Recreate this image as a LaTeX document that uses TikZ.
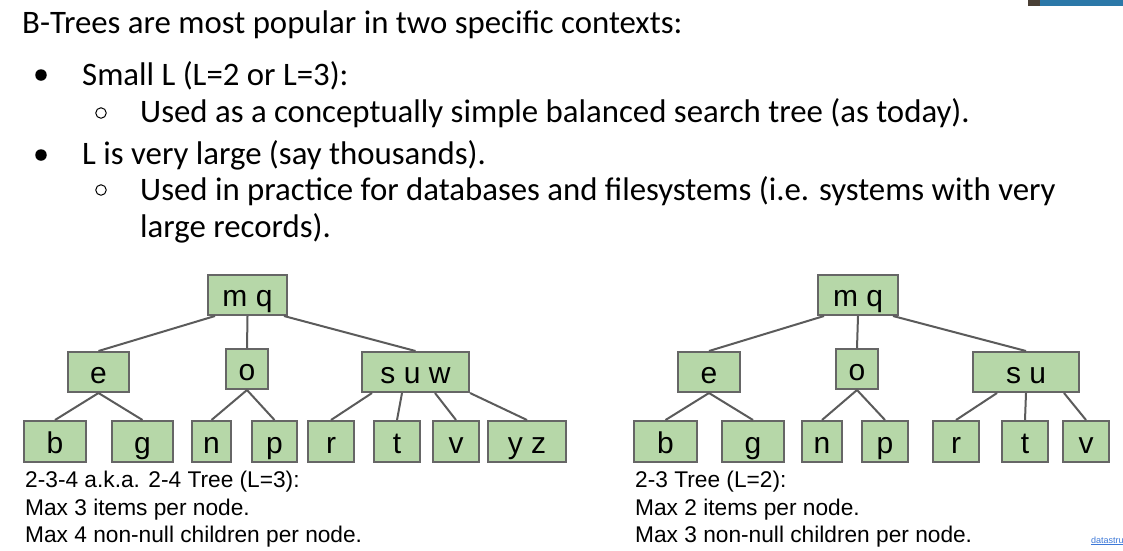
\documentclass[tikz,border=0pt]{standalone}
\usepackage{fontspec}
\setmainfont{Carlito}
\newfontfamily\arialf{Liberation Sans}
\usetikzlibrary{calc}
\definecolor{nodefill}{HTML}{B6D7A8}
\definecolor{nodeline}{HTML}{666666}
\definecolor{edgecol}{HTML}{5B5B5B}
\definecolor{linkblue}{HTML}{3C78D8}
\definecolor{camblue}{HTML}{2B78A8}
\definecolor{camdark}{HTML}{4A3F35}
\begin{document}
\begin{tikzpicture}[x=1pt,y=-1pt,
  tnode/.style={draw=nodeline, fill=nodefill, line width=2pt, minimum height=40pt,
    inner sep=0pt, text height=26pt, text depth=3pt,
    font=\arialf\fontsize{30}{31}\selectfont},
  leaf/.style={tnode, minimum height=41pt},
  edge/.style={draw=edgecol, line width=2pt},
  toptext/.style={anchor=base west, inner sep=0pt, font=\fontsize{32.8}{36}\selectfont},
  capt/.style={anchor=base west, inner sep=0pt, font=\arialf\fontsize{22.7}{27}\selectfont},
  fullbul/.style={circle, fill=black, minimum size=11.5pt, inner sep=0pt},
  openbul/.style={circle, draw=black, line width=1pt, minimum size=10.5pt, inner sep=0pt},
]
\useasboundingbox[fill=white] (0,0) rectangle (1123,550);

% webcam strip fragment
\fill[camblue] (1028,0) rectangle (1123,6);
\fill[camdark] (1028,0) rectangle (1040,6);

% top text
\node[toptext] (t1) at (22,33) {B-Trees are most popular in two specific contexts:};
\node[fullbul] (b1) at (41,75) {};
\node[toptext] (t2) at (82,85) {Small L (L=2 or L=3):};
\node[openbul] (b2) at (101,113) {};
\node[toptext] (t3) at (140,122) {Used as a conceptually simple balanced search tree (as today).};
\node[fullbul] (b3) at (41,155) {};
\node[toptext] (t4) at (82,164) {L is very large (say thousands).};
\node[openbul] (b4) at (101,190) {};
\node[toptext] (t5) at (140,200) {Used in practice for databases and filesystems (i.e. systems with very};
\node[toptext] (t6) at (140,237) {large records).};

% left tree (2-3-4)
\node[tnode, minimum width=79pt] (Lmq) at (247.5,295) {m q};
\node[tnode, minimum width=61pt] (Le) at (98.5,372) {e};
\node[tnode, minimum width=42pt] (Lo) at (247,369) {o};
\node[tnode, minimum width=107pt] (Lsuw) at (415.5,372) {s u w};
\node[leaf, minimum width=62pt] (Lb) at (55,441.5) {b};
\node[leaf, minimum width=61pt] (Lg) at (142.5,441.5) {g};
\node[leaf, minimum width=39pt] (Ln) at (211.5,441.5) {n};
\node[leaf, minimum width=45pt] (Lp) at (274.5,441.5) {p};
\node[leaf, minimum width=46pt] (Lr) at (331,441.5) {r};
\node[leaf, minimum width=46pt] (Lt) at (397,441.5) {t};
\node[leaf, minimum width=46pt] (Lv) at (456,441.5) {v};
\node[leaf, minimum width=78pt] (Lyz) at (527,441.5) {y z};

\draw[edge] ($(Lmq.south west)+(8,0)$) -- (Le.north);
\draw[edge] (Lmq.south) -- (Lo.north);
\draw[edge] ($(Lmq.south east)+(-4,0)$) -- (Lsuw.north);
\draw[edge] (Le.south) -- (Lb.north);
\draw[edge] (Le.south) -- (Lg.north);
\draw[edge] (Lo.south) -- (Ln.north);
\draw[edge] (Lo.south) -- (Lp.north);
\draw[edge] ($(Lsuw.south west)+(11,0)$) -- (Lr.north);
\draw[edge] ($(Lsuw.south west)+(41,0)$) -- (Lt.north);
\draw[edge] ($(Lsuw.south west)+(74,0)$) -- (Lv.north);
\draw[edge] (Lsuw.south east) -- (Lyz.north);

\node[capt] (Lc1) at (25,487) {2-3-4 a.k.a. 2-4 Tree (L=3):};
\node[capt] (Lc2) at (25,515) {Max 3 items per node.};
\node[capt] (Lc3) at (25,542) {Max 4 non-null children per node.};

% right tree (2-3)
\node[tnode, minimum width=80pt] (Rmq) at (858,295) {m q};
\node[tnode, minimum width=62pt] (Re) at (709,372) {e};
\node[tnode, minimum width=42pt] (Ro) at (857,369) {o};
\node[tnode, minimum width=106pt] (Rsu) at (1026,372) {s u};
\node[leaf, minimum width=63pt] (Rb) at (665.5,441.5) {b};
\node[leaf, minimum width=62pt] (Rg) at (753,441.5) {g};
\node[leaf, minimum width=40pt] (Rn) at (822,441.5) {n};
\node[leaf, minimum width=46pt] (Rp) at (885,441.5) {p};
\node[leaf, minimum width=46pt] (Rr) at (956,441.5) {r};
\node[leaf, minimum width=46pt] (Rt) at (1025,441.5) {t};
\node[leaf, minimum width=46pt] (Rv) at (1086,441.5) {v};

\draw[edge] ($(Rmq.south west)+(7,0)$) -- (Re.north);
\draw[edge] (Rmq.south) -- (Ro.north);
\draw[edge] ($(Rmq.south east)+(-6,0)$) -- (Rsu.north);
\draw[edge] (Re.south) -- (Rb.north);
\draw[edge] (Re.south) -- (Rg.north);
\draw[edge] (Ro.south) -- (Rn.north);
\draw[edge] (Ro.south) -- (Rp.north);
\draw[edge] ($(Rsu.south west)+(25,0)$) -- (Rr.north);
\draw[edge] (Rsu.south) -- (Rt.north);
\draw[edge] ($(Rsu.south east)+(-16,0)$) -- (Rv.north);

\node[capt] (Rc1) at (635,487) {2-3 Tree (L=2):};
\node[capt] (Rc2) at (635,515) {Max 2 items per node.};
\node[capt] (Rc3) at (635,542) {Max 3 non-null children per node.};

% link fragment
\node[anchor=base west, inner sep=0pt, text=linkblue, font=\arialf\fontsize{9}{10}\selectfont] (link) at (1091,543) {\underline{datastru}};
\end{tikzpicture}
\end{document}
